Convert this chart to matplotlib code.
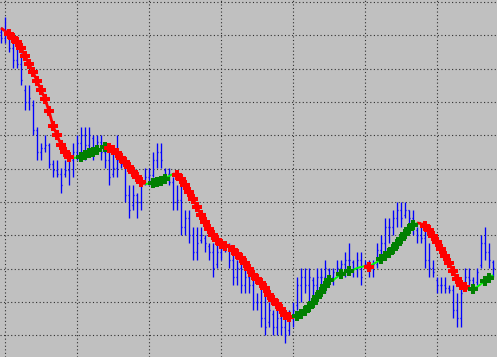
import numpy as np
import matplotlib
matplotlib.use("Agg")
import matplotlib.pyplot as plt
from matplotlib.collections import LineCollection

# ===== price bars =====
highs = [333, 343, 327, 317, 313, 307, 275, 275, 260, 233, 217, 225, 217, 200, 200, 192,
         200, 208, 217, 225, 233, 233, 233, 225, 225, 225, 217, 208, 208, 225, 208, 200,
         175, 175, 167, 183, 192, 192, 208, 217, 217, 192, 192, 183, 175, 175, 150, 150,
         133, 133, 133, 125, 117, 117, 117, 117, 117, 117, 108, 100, 100, 100, 92, 92,
         67, 75, 67, 58, 50, 58, 50, 42, 50, 58, 83, 92, 92, 92, 83, 92,
         92, 100, 92, 92, 100, 100, 108, 117, 100, 108, 108, 100, 100, 100, 117, 125,
         142, 142, 150, 158, 158, 158, 150, 150, 133, 133, 133, 117, 100, 83, 83, 83,
         75, 75, 67, 75, 92, 92, 83, 92, 125, 133, 117, 100]
lows = [317, 317, 308, 292, 292, 275, 250, 250, 225, 200, 200, 208, 192, 183, 183, 167,
        183, 175, 183, 200, 208, 200, 208, 200, 208, 200, 192, 175, 183, 183, 192, 158,
        142, 150, 142, 150, 175, 175, 183, 192, 192, 183, 175, 150, 150, 125, 125, 117,
        100, 100, 117, 108, 100, 83, 92, 100, 108, 92, 75, 75, 67, 67, 67, 50,
        50, 33, 25, 33, 25, 25, 25, 17, 25, 33, 50, 58, 67, 58, 58, 67,
        75, 67, 75, 75, 83, 83, 83, 92, 83, 83, 75, 92, 83, 83, 92, 100,
        108, 117, 125, 133, 133, 142, 133, 125, 117, 117, 92, 83, 83, 67, 67, 67,
        67, 42, 33, 33, 75, 75, 67, 75, 92, 100, 92, 83]
opens = [328, 322, 325, 312, 300, 296, 270, 258, 255, 230, 208, 212, 215, 196, 190, 186,
         186, 190, 200, 208, 217, 225, 215, 222, 210, 218, 208, 200, 186, 192, 200, 196,
         165, 155, 165, 158, 178, 183, 185, 200, 208, 190, 186, 178, 158, 160, 133, 142,
         125, 108, 120, 122, 114, 108, 96, 108, 112, 110, 100, 83, 92, 75, 83, 75,
         58, 58, 42, 38, 46, 33, 42, 33, 30, 42, 55, 75, 83, 75, 80, 75,
         83, 83, 90, 83, 88, 92, 96, 100, 98, 92, 100, 94, 96, 92, 96, 110,
         117, 133, 133, 142, 150, 145, 150, 142, 130, 125, 122, 100, 92, 80, 75, 75,
         72, 70, 50, 42, 78, 83, 80, 78, 95, 117, 108, 98]
closes = [322, 325, 312, 300, 296, 280, 258, 262, 230, 208, 212, 215, 196, 190, 186, 175,
          190, 200, 208, 217, 225, 215, 225, 210, 218, 208, 200, 183, 192, 200, 196, 165,
          150, 165, 158, 175, 183, 185, 200, 208, 200, 186, 178, 158, 160, 133, 142, 125,
          108, 117, 125, 117, 108, 92, 108, 112, 110, 100, 83, 92, 75, 83, 75, 58,
          58, 42, 33, 50, 33, 42, 33, 25, 42, 50, 75, 83, 75, 83, 75, 83,
          83, 92, 83, 88, 92, 96, 100, 100, 92, 100, 83, 96, 92, 96, 110, 117,
          133, 133, 142, 150, 142, 150, 142, 133, 125, 122, 100, 92, 88, 75, 75, 72,
          70, 50, 42, 67, 83, 80, 75, 88, 117, 108, 100, 92]

# ===== smoothed line =====
ma = [332, 329, 326, 322, 318, 312, 304, 296, 288, 279, 270, 261, 249, 234, 225, 215,
      208, 203, 202, 202.5, 203, 205, 207, 208, 210, 211.5, 213, 212.5, 210, 207, 202, 198,
      193, 188, 183, 178, 176, 176.5, 177, 178, 179, 181, 184, 186, 185.5, 181, 175, 168,
      161, 153, 145, 138, 131, 125, 120, 116, 114, 114.3, 110, 106, 102, 97, 91, 85,
      81, 77, 72, 65, 60, 56, 51, 45, 43, 42, 44, 46, 49, 53, 57, 63,
      68, 74, 80, 79.5, 83, 86, 88, 89, 90, 92, 93, 94, 93.5, 96, 98, 101,
      104, 107, 111, 116, 121, 126, 131, 135, 137, 136.5, 134, 130, 124, 118, 111, 104,
      97, 89, 81, 75, 73, 71, 71.5, 73, 76, 79, 82, 85]
# bars that carry an arrow mark
marked = (list(range(2, 18)) + list(range(20, 25)) + list(range(26, 36)) +
          list(range(38, 42)) + list(range(44, 57)) + list(range(58, 73)) +
          list(range(74, 83)) + [85, 87, 92] + list(range(95, 104)) +
          list(range(106, 117)) + [118, 121, 122])

x = np.arange(len(highs))
ma = np.array(ma)

fig = plt.figure(figsize=(4.97, 3.57), dpi=100)
ax = fig.add_axes([0, 0, 1, 1])
ax.set_facecolor('#C0C0C0')

# grid
ax.set_xticks(np.arange(1, 130, 18))
ax.set_yticks(np.arange(358, 0, -33.33))
ax.grid(True, color='#303030', linestyle=(0, (1, 2.2)), linewidth=0.8)
ax.tick_params(left=False, bottom=False, labelleft=False, labelbottom=False)
for s in ax.spines.values():
    s.set_visible(False)

# OHLC bars
bar_c = '#0000FF'
lw = 0.95
ax.vlines(x, lows, highs, color=bar_c, linewidth=lw, snap=True, zorder=2)
ax.hlines(opens, x - 0.3, x, color=bar_c, linewidth=lw, snap=True, zorder=2)
ax.hlines(closes, x, x + 0.3, color=bar_c, linewidth=lw, snap=True, zorder=2)

# coloured line
pts = np.column_stack([x, ma])
segs = np.stack([pts[:-1], pts[1:]], axis=1)
up = np.diff(ma) > 0
seg_c = np.where(up, '#00FF00', '#FF0000')
seg_w = np.where(up, 1.4, 2.0)
ax.add_collection(LineCollection(segs, colors=seg_c, linewidths=seg_w, zorder=3))

# arrow marks
rising = np.r_[False, up]
for i in marked:
    c = '#008000' if rising[i] else '#FF0000'
    ax.plot(x[i], ma[i], marker='P', markersize=7, color=c, markeredgewidth=0, zorder=4)

ax.set_xlim(-0.25, 124.0)
ax.set_ylim(3, 360)
plt.savefig("out.png", dpi=100)
